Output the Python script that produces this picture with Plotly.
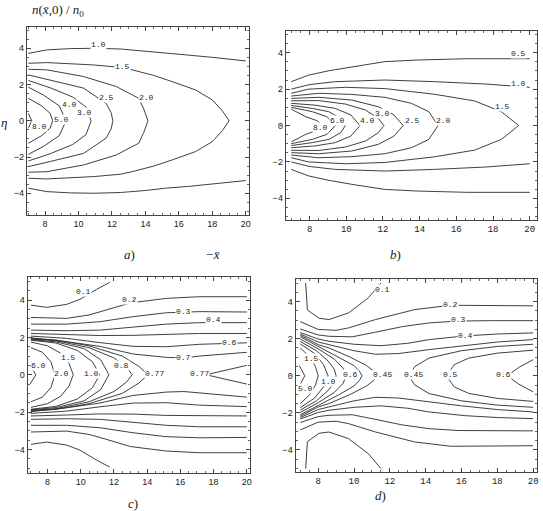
import plotly.graph_objects as go

# ---------------- DATA ----------------
# Each contour is stored as its upper branch (y >= 0). The figure is
# symmetric about y = 0, so the lower branch is the mirror image.
# Branches ending on y = 0 close into one curve.

# Panel a
A_LEVELS = ["1.0", "1.5", "2.0", "2.5", "3.0", "4.0", "5.0", "8.0"]
A_XS = [
    [7.0, 8.1, 9.5, 10.9, 12.5, 14.0, 15.2, 16.6, 18.0, 20.0],
    [7.0, 8.1, 10.9, 12.5, 13.2, 14.5, 15.6, 17.0, 18.0, 18.6, 19.0],
    [7.0, 8.1, 10.3, 12.25, 13.6, 13.9, 14.15],
    [7.0, 8.3, 10.3, 11.65, 11.95, 12.05],
    [7.0, 8.3, 9.65, 10.45, 10.75],
    [7.0, 7.9, 8.85, 9.25],
    [7.0, 7.8, 8.3, 8.45],
    [7.0, 7.2],
]
A_YS = [
    [3.72, 3.91, 3.98, 4.0, 3.96, 3.85, 3.72, 3.62, 3.5, 3.3],
    [3.17, 3.21, 3.08, 2.95, 2.81, 2.5, 2.16, 1.7, 1.15, 0.55, 0.0],
    [2.84, 2.81, 2.44, 1.89, 1.24, 0.65, 0.0],
    [2.53, 2.25, 1.8, 0.96, 0.45, 0.0],
    [2.22, 1.82, 1.31, 0.76, 0.0],
    [1.85, 1.42, 0.82, 0.0],
    [1.24, 0.82, 0.41, 0.0],
    [0.41, 0.0],
]
A_LAB_T = ["1.0", "1.5", "2.0", "2.5", "3.0", "4.0", "5.0", "8.0"]
A_LAB_X = [11.2, 12.65, 14.05, 11.65, 10.35, 9.45, 8.95, 7.65]
A_LAB_Y = [4.2, 2.99, 1.28, 1.3, 0.46, 0.91, 0.08, -0.32]

# Panel b
B_LEVELS = ["0.5", "1.0", "1.5", "2.0", "2.5", "3.0", "4.0", "5.0", "6.0", "8.0"]
B_XS = [
    [7.0, 7.95, 9.05, 10.3, 12.1, 13.9, 16.6, 20.0],
    [7.0, 8.0, 9.4, 12.1, 14.8, 17.6, 20.0],
    [7.0, 7.95, 9.95, 12.1, 14.8, 17.0, 18.45, 19.4],
    [7.0, 8.5, 10.3, 12.1, 13.55, 14.5, 15.0],
    [7.0, 8.5, 10.3, 11.75, 12.6, 13.1],
    [7.0, 8.5, 9.95, 11.05, 11.75, 12.05],
    [7.0, 8.3, 9.4, 10.25, 10.75],
    [7.0, 8.15, 9.05, 9.7, 9.95],
    [7.0, 8.15, 8.95, 9.4],
    [7.0, 7.8, 8.4, 8.7],
]
B_YS = [
    [2.41, 2.77, 3.01, 3.23, 3.51, 3.6, 3.67, 3.67],
    [2.0, 2.25, 2.41, 2.5, 2.41, 2.28, 2.1],
    [1.77, 2.0, 2.1, 2.03, 1.72, 1.35, 0.76, 0.0],
    [1.62, 1.77, 1.71, 1.55, 1.22, 0.76, 0.0],
    [1.49, 1.55, 1.4, 1.03, 0.58, 0.0],
    [1.36, 1.37, 1.18, 0.85, 0.39, 0.0],
    [1.22, 1.12, 0.94, 0.58, 0.0],
    [1.1, 0.94, 0.76, 0.39, 0.0],
    [1.0, 0.76, 0.48, 0.0],
    [0.9, 0.48, 0.27, 0.0],
]
B_LAB_T = ["0.5", "1.0", "1.5", "2.0", "2.5", "3.0", "4.0", "6.0", "8.0"]
B_LAB_X = [19.4, 19.4, 18.5, 15.3, 13.6, 11.95, 11.13, 9.5, 8.6]
B_LAB_Y = [3.95, 2.3, 1.07, 0.27, 0.27, 0.67, 0.27, 0.27, -0.12]

# Panel c
C_LEVELS = ["0.1", "0.2", "0.3", "0.4", "0.5", "0.6", "0.7",
            "0.77", "0.8", "0.9", "1.0", "1.5", "2.0", "6.0", "0.77"]
C_XS = [
    [7.0, 7.95, 9.15, 9.95, 10.95, 11.75],
    [7.0, 9.15, 10.5, 11.5, 13.0, 15.15, 17.15, 20.0],
    [7.0, 9.15, 11.15, 13.15, 15.15, 17.15, 20.0],
    [7.0, 9.15, 11.15, 13.15, 15.15, 17.15, 20.0],
    [7.0, 9.15, 11.15, 13.15, 15.15, 17.15, 20.0],
    [7.0, 9.15, 11.15, 13.15, 15.15, 17.15, 20.0],
    [7.0, 9.15, 11.15, 13.15, 15.15, 16.2, 17.15, 20.0],
    [7.0, 8.5, 10.5, 12.5, 13.5, 14.05],
    [7.0, 8.5, 10.5, 12.0, 12.75, 13.1],
    [7.0, 8.5, 10.2, 11.2, 11.7],
    [7.0, 8.5, 9.8, 10.7, 11.15],
    [7.0, 8.0, 8.8, 9.3, 9.55],
    [7.0, 7.7, 8.2, 8.45],
    [6.95, 7.3],
    [20.0, 18.75, 17.55],
]
C_YS = [
    [3.73, 3.61, 3.77, 4.04, 4.57, 4.95],
    [3.07, 3.02, 3.2, 3.45, 3.85, 4.09, 4.18, 4.18],
    [2.71, 2.71, 2.84, 3.11, 3.32, 3.38, 3.36],
    [2.39, 2.36, 2.39, 2.54, 2.71, 2.79, 2.79],
    [2.21, 2.16, 2.1, 2.11, 2.18, 2.21, 2.21],
    [2.07, 1.95, 1.72, 1.52, 1.5, 1.63, 1.71],
    [1.98, 1.77, 1.52, 1.11, 0.93, 0.9, 1.0, 1.2],
    [1.94, 1.86, 1.55, 1.0, 0.45, 0.0],
    [1.91, 1.82, 1.45, 0.9, 0.4, 0.0],
    [1.88, 1.76, 1.4, 0.8, 0.0],
    [1.85, 1.7, 1.3, 0.7, 0.0],
    [1.75, 1.55, 1.15, 0.6, 0.0],
    [1.45, 1.2, 0.7, 0.0],
    [0.5, 0.0],
    [0.5, 0.25, 0.0],
]
C_LAB_T = ["0.1", "0.2", "0.3", "0.4", "0.6", "0.7", "0.8", "0.77", "0.77",
           "1.5", "2.0", "1.0", "6.0"]
C_LAB_X = [10.15, 12.95, 16.2, 18.0, 18.95, 16.2, 12.45, 14.45, 17.15,
           9.25, 8.85, 10.65, 7.45]
C_LAB_Y = [4.45, 4.05, 3.4, 2.95, 1.73, 0.9, 0.5, 0.09, 0.09,
           0.93, 0.09, 0.09, 0.52]

# Panel d
D_LEVELS = ["0.1", "0.2", "0.3", "0.4", "0.42", "0.45", "0.5", "0.6",
            "0.8", "1.0", "1.5", "5.0", "0.45", "0.5", "0.6"]
D_XS = [
    [7.3, 7.4, 8.05, 8.6, 9.7, 10.8, 11.5],
    [7.0, 8.0, 9.0, 9.7, 11.2, 13.4, 15.4, 17.5, 20.0],
    [7.0, 8.0, 8.6, 9.9, 11.2, 12.7, 14.2, 15.8, 17.5, 20.0],
    [7.0, 8.0, 8.6, 10.0, 11.5, 13.0, 14.2, 16.2, 18.0, 20.0],
    [7.0, 8.0, 8.6, 10.0, 11.2, 12.5, 14.2, 16.0, 18.0, 20.0],
    [7.0, 8.0, 8.6, 9.8, 10.7, 11.1, 11.3],
    [7.0, 8.0, 9.2, 10.0, 10.3, 10.45],
    [7.0, 8.0, 8.9, 9.4, 9.55],
    [7.0, 7.9, 8.55, 8.9, 9.0],
    [7.0, 7.8, 8.3, 8.55],
    [7.0, 7.5, 7.85, 8.0],
    [6.95, 7.25],
    [20.0, 18.0, 16.0, 14.2, 13.4, 13.05],
    [20.0, 18.0, 16.4, 15.6, 15.15],
    [20.0, 19.2, 18.55],
]
D_YS = [
    [5.0, 3.55, 3.1, 3.03, 3.39, 4.2, 5.0],
    [2.92, 2.5, 2.45, 2.58, 3.03, 3.57, 3.8, 3.77, 3.77],
    [2.52, 2.2, 2.13, 2.1, 2.35, 2.65, 2.85, 2.95, 2.97, 2.97],
    [2.33, 1.98, 1.86, 1.7, 1.62, 1.75, 1.95, 2.15, 2.25, 2.31],
    [2.25, 1.82, 1.68, 1.35, 1.16, 1.2, 1.41, 1.62, 1.82, 1.95],
    [2.18, 1.68, 1.5, 1.0, 0.55, 0.25, 0.0],
    [2.1, 1.58, 1.0, 0.55, 0.25, 0.0],
    [1.98, 1.45, 0.9, 0.4, 0.0],
    [1.85, 1.35, 0.8, 0.35, 0.0],
    [1.72, 1.2, 0.6, 0.0],
    [1.5, 1.05, 0.5, 0.0],
    [0.55, 0.0],
    [1.7, 1.58, 1.35, 0.96, 0.5, 0.0],
    [1.38, 1.22, 0.95, 0.6, 0.0],
    [0.87, 0.45, 0.0],
]
D_LAB_T = ["0.1", "0.2", "0.3", "0.4", "1.5", "1.0", "0.6", "0.45", "0.45",
           "0.5", "0.6", "5.0"]
D_LAB_X = [11.6, 15.4, 15.85, 16.2, 7.65, 8.55, 9.8, 11.6, 13.3,
           15.4, 18.35, 7.3]
D_LAB_Y = [4.67, 3.82, 3.02, 2.18, 0.94, -0.31, 0.08, 0.08, 0.08,
           0.08, 0.08, -0.67]

# ---------------- FIGURE ----------------
W, H = 543, 511
LINE = dict(color="#2a2a2a", width=0.9)

fig = go.Figure()


def add_panel(xs_list, ys_list, levels, xa, ya):
    for xs, ys, lev in zip(xs_list, ys_list, levels):
        lower_x = list(reversed(xs))
        lower_y = [-v for v in reversed(ys)]
        if ys[-1] == 0:
            fx = list(xs) + lower_x[1:]
            fy = list(ys) + lower_y[1:]
            fig.add_trace(go.Scatter(x=fx, y=fy, mode="lines", line=LINE,
                                     xaxis=xa, yaxis=ya, name=lev,
                                     showlegend=False, hoverinfo="skip"))
        else:
            for fx, fy in ((xs, ys), (lower_x, lower_y)):
                fig.add_trace(go.Scatter(x=fx, y=fy, mode="lines", line=LINE,
                                         xaxis=xa, yaxis=ya, name=lev,
                                         showlegend=False, hoverinfo="skip"))


def add_labels(texts, xs, ys, xa, ya):
    for t, x, y in zip(texts, xs, ys):
        fig.add_annotation(x=x, y=y, xref=xa, yref=ya, text=t, showarrow=False,
                           font=dict(family="Liberation Mono", size=8, color="#222"),
                           bgcolor="white", borderpad=0)


add_panel(A_XS, A_YS, A_LEVELS, "x", "y")
add_panel(B_XS, B_YS, B_LEVELS, "x2", "y2")
add_panel(C_XS, C_YS, C_LEVELS, "x3", "y3")
add_panel(D_XS, D_YS, D_LEVELS, "x4", "y4")
add_labels(A_LAB_T, A_LAB_X, A_LAB_Y, "x", "y")
add_labels(B_LAB_T, B_LAB_X, B_LAB_Y, "x2", "y2")
add_labels(C_LAB_T, C_LAB_X, C_LAB_Y, "x3", "y3")
add_labels(D_LAB_T, D_LAB_X, D_LAB_Y, "x4", "y4")


def xax(l, r, rng, anchor, fam):
    return dict(domain=[l / W, r / W], range=rng, anchor=anchor,
                tickvals=[8, 10, 12, 14, 16, 18, 20],
                ticks="inside", ticklen=4, tickcolor="#444",
                minor=dict(ticks="inside", ticklen=2, dtick=0.5, tick0=7, tickcolor="#666"),
                showline=True, linecolor="#444", linewidth=1, mirror="ticks",
                showgrid=False, zeroline=False,
                tickfont=dict(family=fam, size=9, color="#222"))


def yax(t, b, rng, anchor, fam):
    return dict(domain=[1 - b / H, 1 - t / H], range=rng, anchor=anchor,
                tickvals=[-4, -2, 0, 2, 4],
                ticks="inside", ticklen=4, tickcolor="#444",
                minor=dict(ticks="inside", ticklen=2, dtick=0.5, tick0=0, tickcolor="#666"),
                showline=True, linecolor="#444", linewidth=1, mirror="ticks",
                showgrid=False, zeroline=False,
                tickfont=dict(family=fam, size=9, color="#222"))


fig.update_layout(
    width=W, height=H, autosize=False,
    margin=dict(l=0, r=0, t=0, b=0),
    paper_bgcolor="white", plot_bgcolor="white",
    showlegend=False,
    xaxis=xax(27, 250, [6.91, 20.2], "y", "Liberation Sans"),
    yaxis=yax(26.7, 215, [-5.2, 5.19], "x", "Liberation Sans"),
    xaxis2=xax(287, 538.7, [6.71, 20.38], "y2", "Liberation Mono"),
    yaxis2=yax(30.7, 220, [-5.19, 5.21], "x2", "Liberation Mono"),
    xaxis3=xax(27.7, 250.7, [6.8, 20.18], "y3", "Liberation Sans"),
    yaxis3=yax(277.3, 472.7, [-5.25, 5.22], "x3", "Liberation Sans"),
    xaxis4=xax(296.7, 538.7, [6.74, 20.2], "y4", "Liberation Mono"),
    yaxis4=yax(279.3, 471.7, [-5.17, 5.2], "x4", "Liberation Mono"),
)

SERIF = dict(family="Liberation Serif", size=13, color="#222")
for txt, px, py in [
    ("<i>n</i>(<i>x̄</i>,0) / <i>n</i><sub>0</sub>", 58, 10),
    ("<i>a</i>)", 130, 254),
    ("<i>−x̄</i>", 213, 254),
    ("<i>b</i>)", 397, 254),
    ("<i>c</i>)", 133, 503),
    ("<i>d</i>)", 382, 495),
    ("<i>η</i>", 4, 122),
]:
    fig.add_annotation(x=px / W, y=1 - py / H, xref="paper", yref="paper",
                       text=txt, showarrow=False, font=SERIF,
                       xanchor="center", yanchor="middle")

fig.write_html("out.html")
